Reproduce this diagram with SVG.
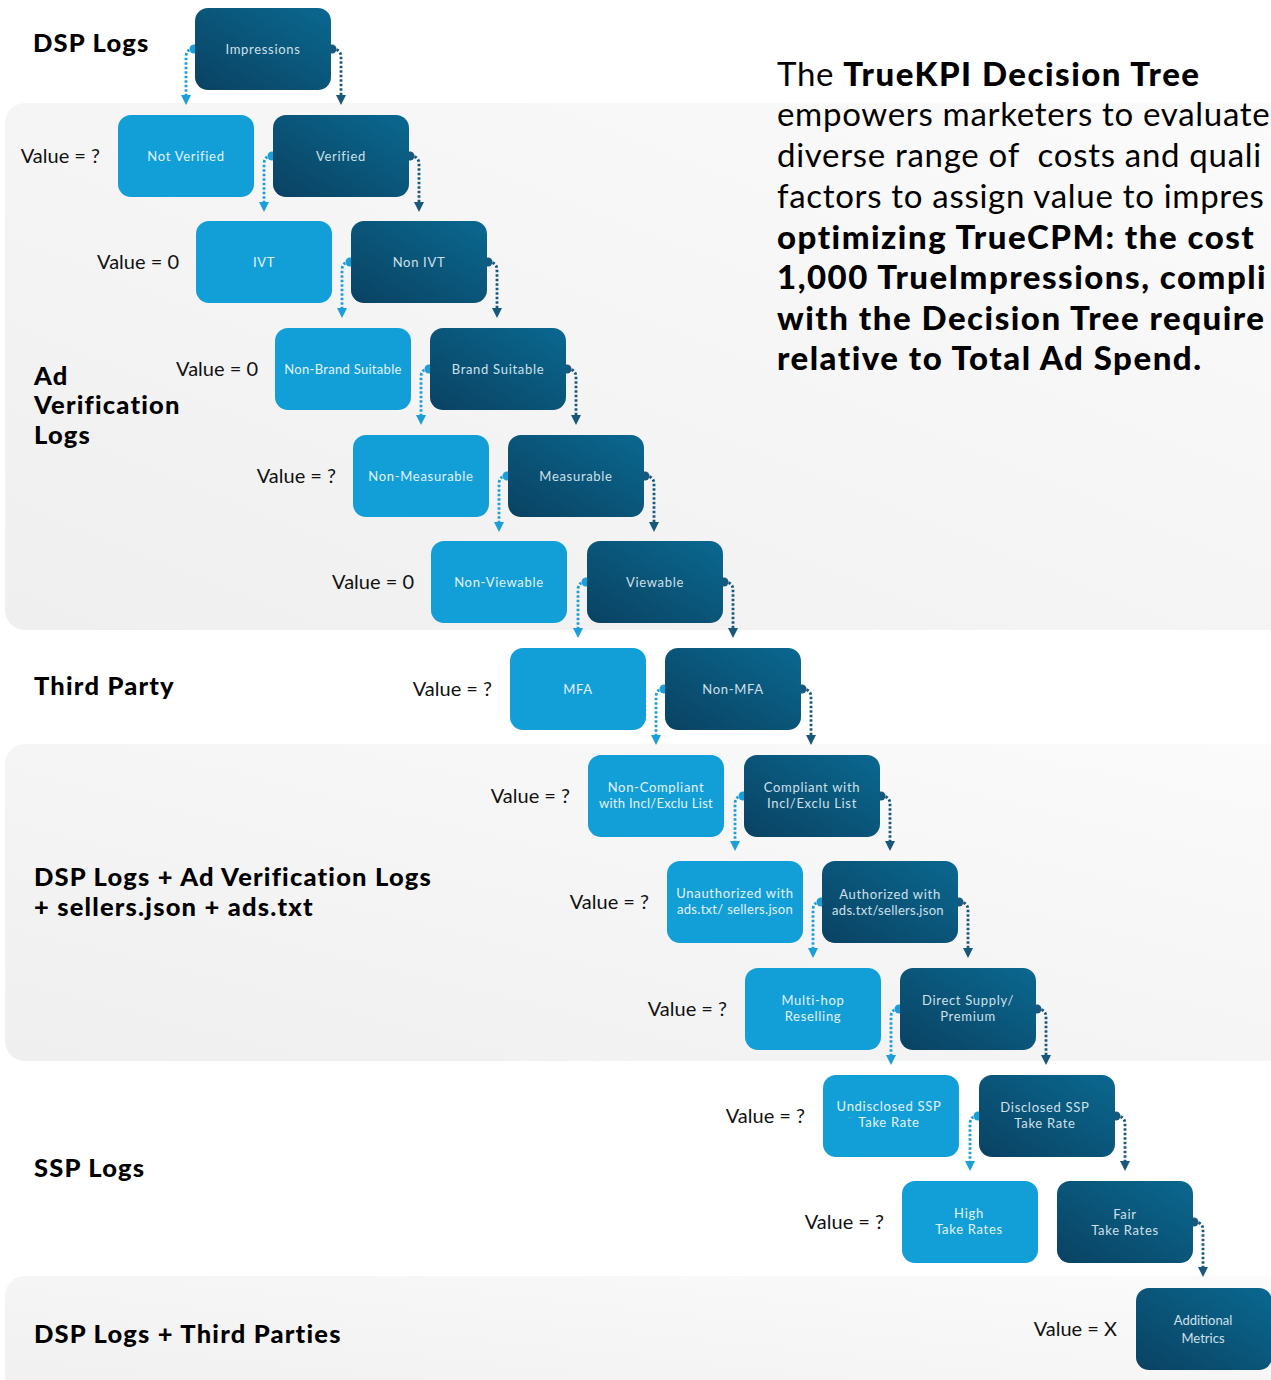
<svg xmlns="http://www.w3.org/2000/svg" width="1271" height="1380" viewBox="0 0 1271 1380">
<defs>
<linearGradient id="dark" x1="0" y1="1" x2="1" y2="0">
<stop offset="0" stop-color="#0a4262"/>
<stop offset="1" stop-color="#0a6890"/>
</linearGradient>
<linearGradient id="band" x1="0" y1="1" x2="1" y2="0">
<stop offset="0" stop-color="#efefef"/>
<stop offset="1" stop-color="#fbfbfb"/>
</linearGradient>
<style>
.band{fill:url(#band)}
.lt{fill:#129fd7}
.dk{fill:url(#dark)}
.nt{font-family:Lato,"Noto Sans",sans-serif;font-size:13px;letter-spacing:0.7px;text-anchor:middle}
.lt-t{fill:#e2f2fa}
.dk-t{fill:#cfe0ea}
.val{font-family:Lato,"Noto Sans",sans-serif;font-weight:400;font-size:20px;fill:#111;text-anchor:end}
.ttl{font-family:Lato,"Noto Sans",sans-serif;font-weight:900;font-size:25.5px;letter-spacing:1.2px;fill:#000}
.para{font-family:Lato,"Noto Sans",sans-serif;font-size:33px;letter-spacing:0.7px;fill:#000}
.b{font-weight:900;letter-spacing:1.5px}
.cl{fill:none;stroke:#1a9fd8;stroke-width:2.8;stroke-dasharray:2.5 2}
.cr{fill:none;stroke:#17587c;stroke-width:2.8;stroke-dasharray:2.5 2}
.al{fill:#1a9fd8}
.ar{fill:#17587c}
</style>
</defs>
<g id="bands">
<rect class="band" x="5" y="103" width="1300" height="527" rx="20"/>
<rect class="band" x="5" y="744" width="1300" height="317" rx="20"/>
<rect class="band" x="5" y="1276" width="1300" height="140" rx="20"/>
</g>
<g id="titles" class="ttl">
<text x="33" y="52">DSP Logs</text>
<text x="34" y="385">Ad</text>
<text x="34" y="414">Verification</text>
<text x="34" y="444">Logs</text>
<text x="34" y="695">Third Party</text>
<text x="34" y="886">DSP Logs + Ad Verification Logs</text>
<text x="34" y="916">+ sellers.json + ads.txt</text>
<text x="34" y="1177">SSP Logs</text>
<text x="34" y="1343">DSP Logs + Third Parties</text>
</g>
<g id="paragraph" class="para">
<text x="777" y="86">The <tspan class="b">TrueKPI Decision Tree</tspan></text>
<text x="777" y="126">empowers marketers to evaluate</text>
<text x="777" y="167">diverse range of&#160; costs and quali</text>
<text x="777" y="208">factors to assign value to impres</text>
<text x="777" y="249" class="b">optimizing TrueCPM: the cost</text>
<text x="777" y="289" class="b">1,000 TrueImpressions, compli</text>
<text x="777" y="330" class="b">with the Decision Tree require</text>
<text x="777" y="370" class="b">relative to Total Ad Spend.</text>
</g>
<g id="values" class="val">
<text x="100" y="163">Value = ?</text>
<text x="179" y="269">Value = 0</text>
<text x="258" y="376">Value = 0</text>
<text x="336" y="483">Value = ?</text>
<text x="414" y="589">Value = 0</text>
<text x="492" y="696">Value = ?</text>
<text x="570" y="803">Value = ?</text>
<text x="649" y="909">Value = ?</text>
<text x="727" y="1016">Value = ?</text>
<text x="805" y="1123">Value = ?</text>
<text x="884" y="1229">Value = ?</text>
<text x="1117" y="1336">Value = X</text>
</g>
<g id="connectors">
<g class="cl">
<path d="M194,49 Q186,49 186,57 V96"/>
<path d="M272,156 Q264,156 264,164 V203"/>
<path d="M350,262 Q342,262 342,270 V309"/>
<path d="M429,369 Q421,369 421,377 V416"/>
<path d="M507,476 Q499,476 499,484 V523"/>
<path d="M586,582 Q578,582 578,590 V629"/>
<path d="M664,689 Q656,689 656,697 V736"/>
<path d="M743,796 Q735,796 735,804 V842"/>
<path d="M821,902 Q813,902 813,910 V949"/>
<path d="M899,1009 Q891,1009 891,1017 V1056"/>
<path d="M978,1116 Q970,1116 970,1124 V1162"/>
</g>
<g class="al">
<circle cx="194" cy="49" r="4.5"/><polygon points="181,95 191,95 186,105"/>
<circle cx="272" cy="156" r="4.5"/><polygon points="259,202 269,202 264,212"/>
<circle cx="350" cy="262" r="4.5"/><polygon points="337,308 347,308 342,318"/>
<circle cx="429" cy="369" r="4.5"/><polygon points="416,415 426,415 421,425"/>
<circle cx="507" cy="476" r="4.5"/><polygon points="494,522 504,522 499,532"/>
<circle cx="586" cy="582" r="4.5"/><polygon points="573,628 583,628 578,638"/>
<circle cx="664" cy="689" r="4.5"/><polygon points="651,735 661,735 656,745"/>
<circle cx="743" cy="796" r="4.5"/><polygon points="730,841 740,841 735,851"/>
<circle cx="821" cy="902" r="4.5"/><polygon points="808,948 818,948 813,958"/>
<circle cx="899" cy="1009" r="4.5"/><polygon points="886,1055 896,1055 891,1065"/>
<circle cx="978" cy="1116" r="4.5"/><polygon points="965,1161 975,1161 970,1171"/>
</g>
<g class="cr">
<path d="M332,49 Q341,49 341,57 V96"/>
<path d="M410,156 Q419,156 419,164 V203"/>
<path d="M488,262 Q497,262 497,270 V309"/>
<path d="M567,369 Q576,369 576,377 V416"/>
<path d="M645,476 Q654,476 654,484 V523"/>
<path d="M724,582 Q733,582 733,590 V629"/>
<path d="M802,689 Q811,689 811,697 V736"/>
<path d="M881,796 Q890,796 890,804 V842"/>
<path d="M959,902 Q968,902 968,910 V949"/>
<path d="M1037,1009 Q1046,1009 1046,1017 V1056"/>
<path d="M1116,1116 Q1125,1116 1125,1124 V1162"/>
<path d="M1194,1222 Q1203,1222 1203,1230 V1268"/>
</g>
<g class="ar">
<circle cx="332" cy="49" r="4.5"/><polygon points="336,95 346,95 341,105"/>
<circle cx="410" cy="156" r="4.5"/><polygon points="414,202 424,202 419,212"/>
<circle cx="488" cy="262" r="4.5"/><polygon points="492,308 502,308 497,318"/>
<circle cx="567" cy="369" r="4.5"/><polygon points="571,415 581,415 576,425"/>
<circle cx="645" cy="476" r="4.5"/><polygon points="649,522 659,522 654,532"/>
<circle cx="724" cy="582" r="4.5"/><polygon points="728,628 738,628 733,638"/>
<circle cx="802" cy="689" r="4.5"/><polygon points="806,735 816,735 811,745"/>
<circle cx="881" cy="796" r="4.5"/><polygon points="885,841 895,841 890,851"/>
<circle cx="959" cy="902" r="4.5"/><polygon points="963,948 973,948 968,958"/>
<circle cx="1037" cy="1009" r="4.5"/><polygon points="1041,1055 1051,1055 1046,1065"/>
<circle cx="1116" cy="1116" r="4.5"/><polygon points="1120,1161 1130,1161 1125,1171"/>
<circle cx="1194" cy="1222" r="4.5"/><polygon points="1198,1267 1208,1267 1203,1277"/>
</g>
</g>
<g id="nodes" class="nt">
<g id="n-impressions"><rect class="dk" x="195" y="8" width="136" height="82" rx="13"/><text class="dk-t" x="263" y="54">Impressions</text></g>
<g id="n-not-verified"><rect class="lt" x="118" y="115" width="136" height="82" rx="13"/><text class="lt-t" x="186" y="161">Not Verified</text></g>
<g id="n-verified"><rect class="dk" x="273" y="115" width="136" height="82" rx="13"/><text class="dk-t" x="341" y="161">Verified</text></g>
<g id="n-ivt"><rect class="lt" x="196" y="221" width="136" height="82" rx="13"/><text class="lt-t" x="264" y="267">IVT</text></g>
<g id="n-non-ivt"><rect class="dk" x="351" y="221" width="136" height="82" rx="13"/><text class="dk-t" x="419" y="267">Non IVT</text></g>
<g id="n-non-brand"><rect class="lt" x="275" y="328" width="136" height="82" rx="13"/><text class="lt-t" x="343" y="374" style="letter-spacing:0.3px">Non-Brand Suitable</text></g>
<g id="n-brand"><rect class="dk" x="430" y="328" width="136" height="82" rx="13"/><text class="dk-t" x="498" y="374">Brand Suitable</text></g>
<g id="n-non-measurable"><rect class="lt" x="353" y="435" width="136" height="82" rx="13"/><text class="lt-t" x="421" y="481">Non-Measurable</text></g>
<g id="n-measurable"><rect class="dk" x="508" y="435" width="136" height="82" rx="13"/><text class="dk-t" x="576" y="481">Measurable</text></g>
<g id="n-non-viewable"><rect class="lt" x="431" y="541" width="136" height="82" rx="13"/><text class="lt-t" x="499" y="587">Non-Viewable</text></g>
<g id="n-viewable"><rect class="dk" x="587" y="541" width="136" height="82" rx="13"/><text class="dk-t" x="655" y="587">Viewable</text></g>
<g id="n-mfa"><rect class="lt" x="510" y="648" width="136" height="82" rx="13"/><text class="lt-t" x="578" y="694">MFA</text></g>
<g id="n-non-mfa"><rect class="dk" x="665" y="648" width="136" height="82" rx="13"/><text class="dk-t" x="733" y="694">Non-MFA</text></g>
<g id="n-non-compliant"><rect class="lt" x="588" y="755" width="136" height="82" rx="13"/><text class="lt-t" x="656" y="792">Non-Compliant</text><text class="lt-t" x="656" y="808" style="letter-spacing:0.3px">with Incl/Exclu List</text></g>
<g id="n-compliant"><rect class="dk" x="744" y="755" width="136" height="82" rx="13"/><text class="dk-t" x="812" y="792">Compliant with</text><text class="dk-t" x="812" y="808">Incl/Exclu List</text></g>
<g id="n-unauthorized"><rect class="lt" x="667" y="861" width="136" height="82" rx="13"/><text class="lt-t" x="735" y="898">Unauthorized with</text><text class="lt-t" x="735" y="914" style="letter-spacing:0.3px">ads.txt/ sellers.json</text></g>
<g id="n-authorized"><rect class="dk" x="822" y="861" width="136" height="82" rx="13"/><text class="dk-t" x="890" y="899">Authorized with</text><text class="dk-t" x="888" y="915" style="letter-spacing:0.3px">ads.txt/sellers.json</text></g>
<g id="n-multihop"><rect class="lt" x="745" y="968" width="136" height="82" rx="13"/><text class="lt-t" x="813" y="1005">Multi-hop</text><text class="lt-t" x="813" y="1021">Reselling</text></g>
<g id="n-direct"><rect class="dk" x="900" y="968" width="136" height="82" rx="13"/><text class="dk-t" x="968" y="1005">Direct Supply/</text><text class="dk-t" x="968" y="1021">Premium</text></g>
<g id="n-undisclosed"><rect class="lt" x="823" y="1075" width="136" height="82" rx="13"/><text class="lt-t" x="889" y="1111">Undisclosed SSP</text><text class="lt-t" x="889" y="1127">Take Rate</text></g>
<g id="n-disclosed"><rect class="dk" x="979" y="1075" width="136" height="82" rx="13"/><text class="dk-t" x="1045" y="1112">Disclosed SSP</text><text class="dk-t" x="1045" y="1128">Take Rate</text></g>
<g id="n-high"><rect class="lt" x="902" y="1181" width="136" height="82" rx="13"/><text class="lt-t" x="969" y="1218">High</text><text class="lt-t" x="969" y="1234">Take Rates</text></g>
<g id="n-fair"><rect class="dk" x="1057" y="1181" width="136" height="82" rx="13"/><text class="dk-t" x="1125" y="1219">Fair</text><text class="dk-t" x="1125" y="1235">Take Rates</text></g>
<g id="n-additional"><rect class="dk" x="1136" y="1288" width="136" height="82" rx="13"/><text class="dk-t" x="1203" y="1325" style="letter-spacing:0">Additional</text><text class="dk-t" x="1203" y="1343" style="letter-spacing:0">Metrics</text></g>
</g>
</svg>
